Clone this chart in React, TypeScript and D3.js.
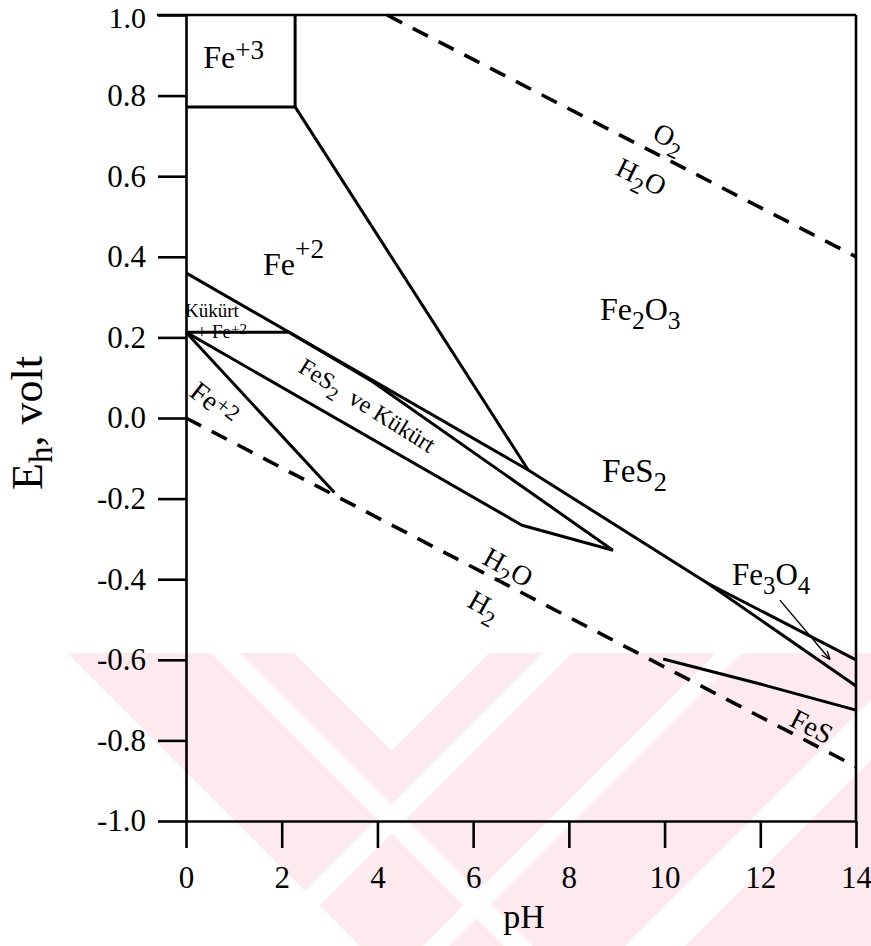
import React, { useEffect, useRef } from "react";
import * as d3 from "d3";

const W = 871;
const H = 946;

// axis domains & ticks
const xDomain: [number, number] = [0, 14];
const yDomain: [number, number] = [-1, 1];
const xTicks = [0, 2, 4, 6, 8, 10, 12, 14];
const yTicks = [1.0, 0.8, 0.6, 0.4, 0.2, 0.0, -0.2, -0.4, -0.6, -0.8, -1.0];

// stability field boundaries (pH, Eh)
const fe3Box = [[0, 0.772], [2.28, 0.772], [2.28, 1.0]];
const fe2Fe2o3Line = [[2.28, 0.772], [7.15, -0.129]];
const oxideBoundary = [[0, 0.36], [7.15, -0.129], [10.9, -0.41], [14, -0.6]];
const magnetiteLower = [[10.9, -0.41], [14, -0.665]];
const sulfurHoriz = [[0, 0.213], [2.15, 0.213]];
const wedgeUpper = [[2.15, 0.213], [3.9, 0.09], [8.92, -0.328]];
const wedgeLower = [[0, 0.213], [7.02, -0.266], [8.92, -0.328]];
const fe2LowerLine = [[0, 0.213], [3.1, -0.185]];
const fesLine = [[9.97, -0.598], [12, -0.66], [14, -0.725]];
const fe3o4Leader = [[12.41, -0.452], [13.46, -0.6]];

// water stability limits (dashed)
const o2Line = [[4.2, 1.0], [14, 0.4]];
const h2Line = [[0, 0], [14, -0.865]];

const FONT = "'Liberation Serif', 'Times New Roman', serif";

type Part = [string, ("sub" | "sup")?, number?];

function Chem({ parts, fs, x = 0, y = 0, anchor = "start", transform, ratio = 0.8 }: { parts: Part[]; fs: number; x?: number; y?: number; anchor?: string; transform?: string; ratio?: number }) {
  let shift = 0;
  const spans = parts.map((p, i) => {
    const t = p[0];
    const kind = p[1];
    const custom = p[2];
    let target = 0;
    let size = fs;
    if (kind === "sub") { target = custom ?? 0.3 * fs; size = ratio * fs; }
    if (kind === "sup") { target = custom ?? -0.42 * fs; size = ratio * fs; }
    const dy = target - shift;
    shift = target;
    return (
      <tspan key={i} dy={dy} fontSize={size}>{t}</tspan>
    );
  });
  return (
    <text x={x} y={y} fontSize={fs} fontFamily={FONT} textAnchor={anchor} fill="#000" transform={transform} style={{ whiteSpace: "pre" }}>
      {spans}
    </text>
  );
}

const fe3Parts: Part[] = [["Fe"], ["+3", "sup", -9]];
const fe2Parts: Part[] = [["Fe"], ["+2", "sup", -17]];
const hematiteParts: Part[] = [["Fe"], ["2", "sub", 9], ["O"], ["3", "sub", 9]];
const pyriteParts: Part[] = [["FeS"], ["2", "sub", 9]];
const magnetiteParts: Part[] = [["Fe"], ["3", "sub", 9], ["O"], ["4", "sub", 9]];
const sulfurParts: Part[] = [["Kükürt"]];
const plusFe2Parts: Part[] = [["+ Fe"], ["+2", "sup", -4]];
const wedgeParts: Part[] = [["FeS"], ["2", "sub", 7], ["  ve Kükürt"]];
const fe2RotParts: Part[] = [["Fe"], ["+2", "sup", -6]];
const o2Parts: Part[] = [["O"], ["2", "sub", 8]];
const h2oParts: Part[] = [["H"], ["2", "sub", 8], ["O"]];
const h2Parts: Part[] = [["H"], ["2", "sub", 8]];
const fesParts: Part[] = [["FeS"]];
const yTitleParts: Part[] = [["E"], ["h", "sub", 10], [", volt"]];

// decorative background watermark (45° bands), in page pixels
function band(c1: number, c2: number, dir: 1 | -1, y0: number, y1: number) {
  // dir 1: lines x - y = c ; dir -1: lines x + y = c
  const xa = (c: number, yy: number) => (dir === 1 ? c + yy : c - yy);
  return `${xa(c1, y0)},${y0} ${xa(c2, y0)},${y0} ${xa(c2, y1)},${y1} ${xa(c1, y1)},${y1}`;
}

export default function App() {
  const axRef = useRef<SVGGElement>(null);
  const x = d3.scaleLinear().domain(xDomain).range([186, 856]);
  const y = d3.scaleLinear().domain(yDomain).range([821, 15]);
  const line = d3.line<number[]>().x((d) => x(d[0])).y((d) => y(d[1]));

  useEffect(() => {
    const g = d3.select(axRef.current);
    g.selectAll("*").remove();
    const ya = d3.axisLeft(y).tickValues(yTicks).tickSize(28).tickSizeOuter(0).tickPadding(12)
      .tickFormat((d) => (+d).toFixed(1));
    const gy = g.append("g").attr("transform", `translate(${x(0)},0)`).call(ya as any);
    const xa = d3.axisBottom(x).tickValues(xTicks).tickSize(27).tickSizeOuter(0).tickPadding(18)
      .tickFormat((d) => String(d));
    const gx = g.append("g").attr("transform", `translate(0,${y(-1)})`).call(xa as any);
    [gy, gx].forEach((a) => {
      a.select(".domain").attr("stroke", "#000").attr("stroke-width", 2.6);
      a.selectAll(".tick line").attr("stroke", "#000").attr("stroke-width", 2.6);
      a.selectAll(".tick text").attr("font-family", FONT).attr("font-size", 31).attr("fill", "#000");
    });
    // keep the top label inside the picture
    gy.selectAll(".tick text").filter((d: any) => d === yTicks[0]).attr("dy", "0.4em").attr("font-size", 30);
  }, []);

  const solid = { fill: "none", stroke: "#000", strokeWidth: 3, strokeLinejoin: "round" as const };
  const dashed = { fill: "none", stroke: "#000", strokeWidth: 3.6, strokeDasharray: "17 12" };

  const rot = (px: number, py: number, a: number) => `translate(${px},${py}) rotate(${a})`;
  const WM_TOP = 653;

  return (
    <div style={{ position: "absolute", left: 0, top: 0 }}>
      <svg width={W} height={H} viewBox={`0 0 ${W} ${H}`} style={{ display: "block", background: "#fff" }}>
        <defs>
          <marker id="arr" viewBox="0 0 10 10" refX="10" refY="5" markerWidth="9" markerHeight="9" orient="auto" markerUnits="userSpaceOnUse">
            <path d="M0,1 L10,5 L0,9" fill="none" stroke="#000" strokeWidth={1.4} />
          </marker>
          <clipPath id="wmclip">
            <rect x={0} y={WM_TOP} width={W} height={H - WM_TOP} />
          </clipPath>
        </defs>
        {/* faint watermark */}
        <g clipPath="url(#wmclip)">
          <polygon points={`67,${WM_TOP} 871,${WM_TOP} 871,946 360,946`} fill="#fdeaee" />
          <polygon points={band(-442, -413, 1, WM_TOP, 946)} fill="#fff" />
          <polygon points={`294,${WM_TOP} 489,${WM_TOP} 391.5,750.5`} fill="#fff" />
          <polygon points={band(1196, 1225, -1, WM_TOP, 946)} fill="#fff" />
          <polygon points={band(1369, 1395, -1, WM_TOP, 946)} fill="#fff" />
          <polygon points={band(1571, 1631, -1, WM_TOP, 946)} fill="#fff" />
        </g>

        {/* frame */}
        <line x1={157} y1={y(1)} x2={x(14)} y2={y(1)} stroke="#000" strokeWidth={2.6} />
        <line x1={x(14)} y1={y(1)} x2={x(14)} y2={y(-1)} stroke="#000" strokeWidth={2.6} />
        <g ref={axRef} />

        {/* boundaries */}
        <path d={line(fe3Box as any) || ""} {...solid} />
        <path d={line(fe2Fe2o3Line as any) || ""} {...solid} />
        <path d={line(oxideBoundary as any) || ""} {...solid} />
        <path d={line(magnetiteLower as any) || ""} {...solid} />
        <path d={line(sulfurHoriz as any) || ""} {...solid} />
        <path d={line(wedgeUpper as any) || ""} {...solid} />
        <path d={line(wedgeLower as any) || ""} {...solid} />
        <path d={line(fe2LowerLine as any) || ""} {...solid} />
        <path d={line(fesLine as any) || ""} {...solid} />
        <path d={line(fe3o4Leader as any) || ""} fill="none" stroke="#000" strokeWidth={1.4} markerEnd="url(#arr)" />
        <path d={line(o2Line as any) || ""} {...dashed} />
        <path d={line(h2Line as any) || ""} {...dashed} />

        {/* field labels */}
        <Chem x={x(0.36)} y={y(0.868)} fs={32} ratio={0.85} parts={fe3Parts} />
        <Chem x={x(1.61)} y={y(0.355)} fs={32} ratio={0.85} parts={fe2Parts} />
        <Chem x={x(8.65)} y={y(0.243)} fs={32} parts={hematiteParts} />
        <Chem x={x(8.7)} y={y(-0.159)} fs={33} parts={pyriteParts} />
        <Chem x={x(11.41)} y={y(-0.414)} fs={31} parts={magnetiteParts} />
        <Chem x={x(-0.02)} y={y(0.25)} fs={19} parts={sulfurParts} />
        <Chem x={x(0.22)} y={y(0.1985)} fs={19} parts={plusFe2Parts} />
        <Chem transform={rot(297, 371, 32)} fs={24} parts={wedgeParts} />
        <Chem transform={rot(188, 395, 38)} fs={28} parts={fe2RotParts} />
        <Chem transform={rot(651, 139, 26)} fs={28} parts={o2Parts} />
        <Chem transform={rot(614, 174, 26)} fs={28} parts={h2oParts} />
        <Chem transform={rot(481, 563, 29)} fs={28} parts={h2oParts} />
        <Chem transform={rot(466, 606, 29)} fs={28} parts={h2Parts} />
        <Chem transform={rot(788, 725, 27)} fs={28} parts={fesParts} />

        {/* axis titles */}
        <Chem transform="translate(42,423) rotate(-90)" anchor="middle" fs={44} ratio={0.75} parts={yTitleParts} />
        <text x={524} y={928} fontSize={34} fontFamily={FONT} textAnchor="middle" fill="#000">pH</text>
      </svg>
    </div>
  );
}
